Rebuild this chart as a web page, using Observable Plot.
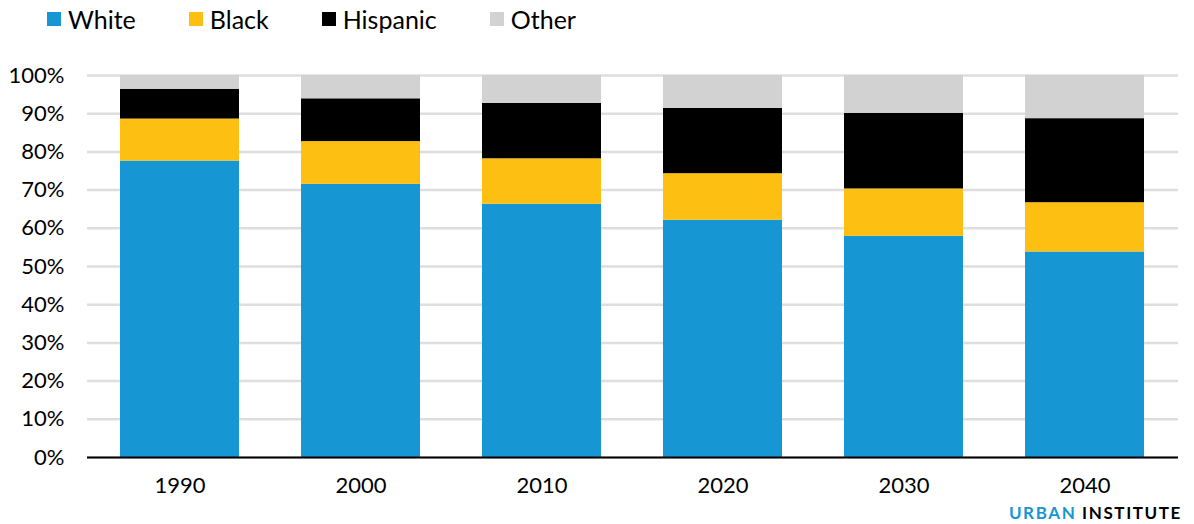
<!DOCTYPE html>
<html><head><meta charset="utf-8">
<script src="https://cdn.jsdelivr.net/npm/d3@7"></script>
<script src="https://cdn.jsdelivr.net/npm/@observablehq/plot@0.6"></script>
<style>
body{margin:0;background:#fff;font-family:Lato,sans-serif;}
#wrap{position:relative;width:1194px;height:524px;overflow:hidden}
#legend{position:absolute;left:47px;top:4px;display:flex;align-items:center;font-size:25px;color:#000;line-height:30px}
.item{display:flex;align-items:center;margin-right:53px}
.sw{width:14px;height:14px;margin-right:7px}
#chart{position:absolute;left:0;top:40px}
#brand{position:absolute;right:12px;top:503px;font-weight:bold;font-size:17px;letter-spacing:1.6px;line-height:20px;white-space:nowrap}
</style></head>
<body>
<div id="wrap">
  <div id="legend"></div>
  <div id="chart"></div>
  <div id="brand"><span style="color:#1696d2">URBAN</span> <span style="color:#000">INSTITUTE</span></div>
</div>
<script>
const years = ["1990", "2000", "2010", "2020", "2030", "2040"];
const groups = ["White", "Black", "Hispanic", "Other"];
const colors = ["#1696d2", "#fdbf11", "#000000", "#d2d2d2"];
const white = [77.6, 71.5, 66.3, 62.1, 57.9, 53.8];
const black = [11.0, 11.2, 11.9, 12.2, 12.4, 12.9];
const hispanic = [7.8, 11.2, 14.5, 17.1, 19.8, 22.0];
const other = [3.6, 6.1, 7.3, 8.6, 9.9, 11.3];
const yTicks = [0, 10, 20, 30, 40, 50, 60, 70, 80, 90, 100];

const series = [white, black, hispanic, other];
const data = years.flatMap((year, i) =>
  groups.map((group, g) => ({year, group, value: series[g][i]})));

const legend = document.getElementById("legend");
groups.forEach((g, i) => {
  const item = document.createElement("div");
  item.className = "item";
  item.innerHTML = `<span class="sw" style="background:${colors[i]}"></span><span>${g}</span>`;
  legend.appendChild(item);
});

const chart = Plot.plot({
  width: 1194,
  height: 484,
  marginLeft: 87,
  marginRight: 16,
  marginTop: 35,
  marginBottom: 67,
  style: {fontFamily: "Lato, sans-serif", fontSize: "22px", color: "#000", background: "#fff"},
  x: {domain: years, paddingInner: 0.34, paddingOuter: 0.17, label: null},
  y: {domain: [0, 100], label: null},
  color: {domain: groups, range: colors},
  marks: [
    Plot.gridY(yTicks, {stroke: "#dedede", strokeOpacity: 1, strokeWidth: 2.5}),
    Plot.barY(data, {x: "year", y: "value", fill: "group"}),
    Plot.ruleY([0], {stroke: "#000", strokeWidth: 2}),
    Plot.axisY(yTicks, {tickSize: 0, tickPadding: 23, tickFormat: d => d + "%", label: null, fontSize: 22}),
    Plot.axisX({tickSize: 0, tickPadding: 20, label: null, fontSize: 22})
  ]
});
document.getElementById("chart").appendChild(chart);
</script>
</body></html>
